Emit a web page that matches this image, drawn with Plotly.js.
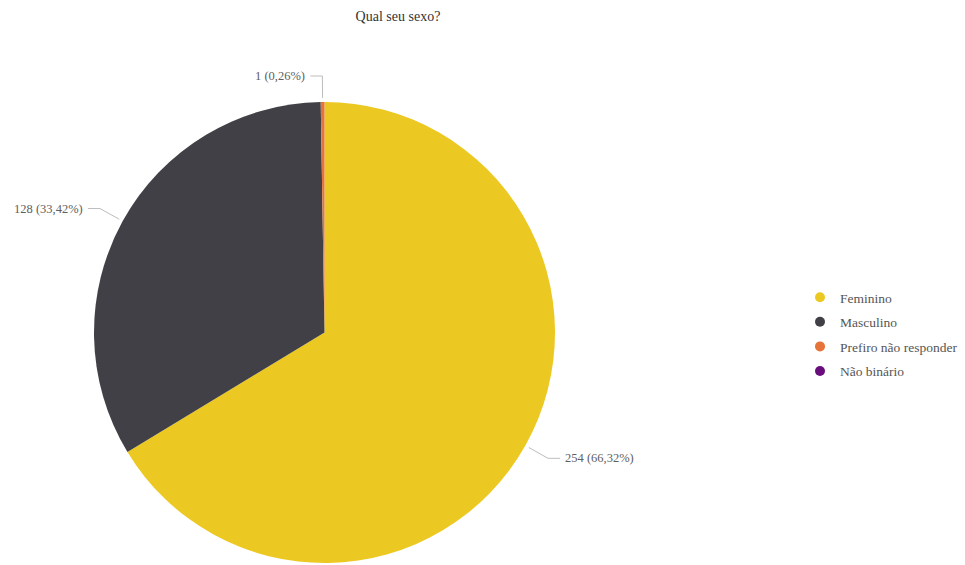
<!DOCTYPE html>
<html>
<head>
<meta charset="utf-8">
<script src="https://cdn.plot.ly/plotly-3.0.1.min.js"></script>
<style>
  html, body { margin: 0; padding: 0; background: #fff; }
  #chart { width: 965px; height: 565px; }
</style>
</head>
<body>
<div id="chart"></div>
<script>
// Survey answers: "Qual seu sexo?"
const categories = ['Feminino', 'Masculino', 'Prefiro não responder', 'Não binário'];
const counts = [254, 128, 1, 0];
const sliceColors = ['#ECC922', '#404046', '#E5733A', '#6A0D7C'];

const W = 965, H = 565;
const M = { l: 0, r: 0, t: 102, b: 2 };
const plotW = W - M.l - M.r;
const plotH = H - M.t - M.b;
const R = plotH / 2;          // pie radius in px
const CX = 324.5;             // pie centre x in px
const CY = M.t + R;           // pie centre y in px

const serif = '"Times New Roman", "Liberation Serif", "DejaVu Serif", serif';
const total = counts.reduce((a, b) => a + b, 0);

// px -> paper conversions
const px2x = px => (px - M.l) / plotW;
const py2y = py => (H - M.b - py) / plotH;

const fmtPct = v => (v / total * 100).toFixed(2).replace('.', ',') + '%';

const shapes = [];
const annotations = [];
let cum = 0;
counts.forEach((v, i) => {
  if (v > 0) {
    const mid = (cum + v / 2) / total * 2 * Math.PI; // clockwise from 12 o'clock
    const dx = Math.sin(mid), dy = -Math.cos(mid);
    const side = dx >= 0 ? 1 : -1;
    const x1 = CX + (R + 4) * dx, y1 = CY + (R + 4) * dy;
    const x2 = CX + (R + 26) * dx, y2 = CY + (R + 26) * dy;
    const x3 = x2 + side * 12, y3 = y2;
    shapes.push({
      type: 'path', xref: 'paper', yref: 'paper',
      path: `M ${px2x(x1)},${py2y(y1)} L ${px2x(x2)},${py2y(y2)} L ${px2x(x3)},${py2y(y3)}`,
      line: { color: '#BDBDBD', width: 1 }
    });
    annotations.push({
      xref: 'paper', yref: 'paper',
      x: px2x(x3 + side * 3), y: py2y(y3),
      xanchor: side > 0 ? 'left' : 'right', yanchor: 'middle',
      showarrow: false,
      text: `${v} (${fmtPct(v)})`,
      font: { family: serif, size: 12.5, color: '#606060' }
    });
  }
  cum += v;
});

const pie = {
  type: 'pie',
  labels: categories,
  values: counts,
  sort: false,
  direction: 'clockwise',
  rotation: 0,
  textinfo: 'none',
  marker: { colors: sliceColors, line: { width: 0 } },
  domain: { x: [px2x(CX - R), px2x(CX + R)], y: [0, 1] },
  showlegend: false,
  hoverinfo: 'label+value+percent'
};

// Legend entries with round markers
const legendTraces = categories.map((c, i) => ({
  type: 'scatter', mode: 'markers',
  x: [null], y: [null],
  name: c,
  marker: { color: sliceColors[i], size: 10, symbol: 'circle' },
  legendgroup: 'g' + i,
  showlegend: true,
  hoverinfo: 'skip'
}));

const layout = {
  width: W, height: H,
  margin: M,
  font: { family: serif, color: '#555555' },
  paper_bgcolor: '#ffffff',
  plot_bgcolor: '#ffffff',
  title: {
    text: 'Qual seu sexo?',
    x: 398 / W, xanchor: 'center',
    xref: 'container', yref: 'container',
    y: 1 - 16 / H, yanchor: 'middle',
    font: { family: serif, size: 14, color: '#333333' }
  },
  xaxis: { visible: false, showgrid: false, zeroline: false },
  yaxis: { visible: false, showgrid: false, zeroline: false },
  legend: {
    x: px2x(800), xanchor: 'left',
    y: py2y(282), yanchor: 'top',
    font: { family: serif, size: 13.5, color: '#555555' },
    tracegroupgap: 4,
    bgcolor: 'rgba(0,0,0,0)'
  },
  shapes: shapes,
  annotations: annotations
};

Plotly.newPlot('chart', [pie].concat(legendTraces), layout, { displayModeBar: false, staticPlot: true });
</script>
</body>
</html>
